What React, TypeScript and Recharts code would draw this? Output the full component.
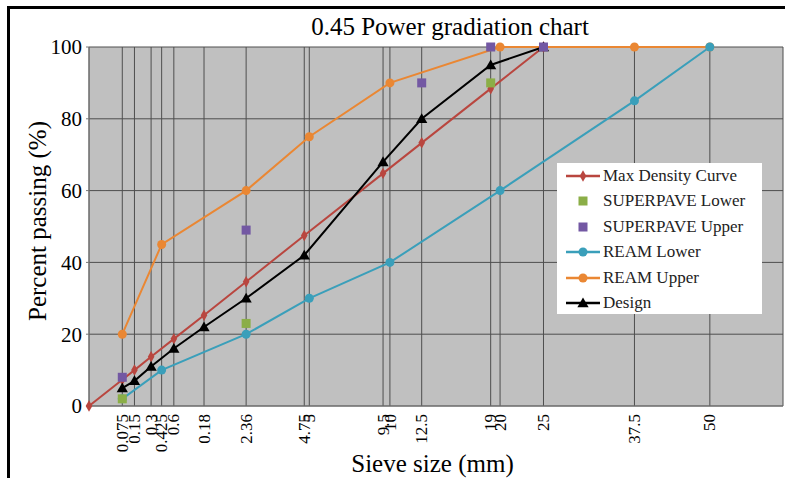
import { ComposedChart, Line, Scatter, XAxis, YAxis, CartesianGrid, Symbols } from "recharts";

// sieve sizes (mm) on a 0.45 power axis
const tickSizes = [0.075, 0.15, 0.3, 0.425, 0.6, 1.18, 2.36, 4.75, 5, 9.5, 10, 12.5, 19, 20, 25, 37.5, 50];
const tickLabels = ["0.075", "0.15", "0.3", "0.425", "0.6", "0.18", "2.36", "4.75", "5", "9.5", "10", "12.5", "19", "20", "25", "37.5", "50"];
const yTicks = [0, 20, 40, 60, 80, 100];

const maxDensitySizes = [0, 0.075, 0.15, 0.3, 0.6, 1.18, 2.36, 4.75, 9.5, 12.5, 19, 25];
const maxDensityPassing = [0, 7.3, 10.0, 13.7, 18.7, 25.3, 34.6, 47.5, 64.8, 73.3, 88.4, 100];

const superpaveLowerSizes = [0.075, 2.36, 19];
const superpaveLowerPassing = [2, 23, 90];
const superpaveUpperSizes = [0.075, 2.36, 12.5, 19, 25];
const superpaveUpperPassing = [8, 49, 90, 100, 100];

const reamSizes = [0.075, 0.425, 2.36, 5, 10, 20, 37.5, 50];
const reamLowerPassing = [2, 10, 20, 30, 40, 60, 85, 100];
const reamUpperPassing = [20, 45, 60, 75, 90, 100, 100, 100];

const designSizes = [0.075, 0.15, 0.3, 0.6, 1.18, 2.36, 4.75, 9.5, 12.5, 19, 25];
const designPassing = [5, 7, 11, 16, 22, 30, 42, 68, 80, 95, 100];

const POWER = 0.45;
const toX = (s: number) => Math.pow(s, POWER);
const points = (sizes: number[], vals: number[]) => sizes.map((s, i) => ({ x: toX(s), y: vals[i] }));

const RED = "#B9463F";
const GREEN = "#8BAE47";
const PURPLE = "#7358A3";
const TEAL = "#3A9FBA";
const ORANGE = "#EA8733";
const SERIF = "Liberation Serif";

const labelFor = (v: number) => {
  const i = tickSizes.findIndex((s) => Math.abs(toX(s) - v) < 1e-6);
  return i >= 0 ? tickLabels[i] : "";
};

function XTick(props: any) {
  const { x, y, payload } = props;
  return (
    <text
      transform={`translate(${x},${y}) rotate(-90)`}
      textAnchor="end"
      dy="0.33em"
      style={{ fontFamily: SERIF, fontSize: 17 }}
      fill="#000"
    >
      {labelFor(payload.value)}
    </text>
  );
}

function YTick(props: any) {
  const { x, y, payload } = props;
  return (
    <text x={x} y={y} dy="0.35em" textAnchor="end" style={{ fontFamily: SERIF, fontSize: 21 }} fill="#000">
      {payload.value}
    </text>
  );
}

const diamondDot = (p: any) => (
  <Symbols key={`d${p.index}`} cx={p.cx} cy={p.cy} type="diamond" size={38} fill={RED} stroke="none" />
);
const triangleDot = (p: any) => (
  <Symbols key={`t${p.index}`} cx={p.cx} cy={p.cy + 1} type="triangle" size={55} fill="#000" stroke="none" />
);
const square = (color: string) => (p: any) => (
  <rect x={p.cx - 4.5} y={p.cy - 4.5} width={9} height={9} fill={color} />
);

const legendItems = [
  { name: "Max Density Curve", color: RED, kind: "diamond" },
  { name: "SUPERPAVE Lower", color: GREEN, kind: "square" },
  { name: "SUPERPAVE Upper", color: PURPLE, kind: "square" },
  { name: "REAM Lower", color: TEAL, kind: "circle" },
  { name: "REAM Upper", color: ORANGE, kind: "circle" },
  { name: "Design", color: "#000", kind: "triangle" },
];

function LegendBox() {
  return (
    <div style={{ position: "absolute", left: 557, top: 163, background: "#fff", width: 205, height: 151 }}>
      {legendItems.map((it) => (
        <div key={it.name} style={{ display: "flex", alignItems: "center", height: 25.5 }}>
          <svg width={46} height={20} style={{ flex: "none" }}>
            {it.kind !== "square" && <line x1={9} x2={43} y1={10} y2={10} stroke={it.color} strokeWidth={2.5} />}
            {it.kind === "square" && <rect x={21.5} y={5.5} width={9} height={9} fill={it.color} />}
            {it.kind === "circle" && <circle cx={26} cy={10} r={4.5} fill={it.color} />}
            {it.kind === "diamond" && <Symbols cx={26} cy={10} type="diamond" size={38} fill={it.color} />}
            {it.kind === "triangle" && <Symbols cx={26} cy={11} type="triangle" size={55} fill={it.color} />}
          </svg>
          <span style={{ fontFamily: SERIF, fontSize: 17, color: "#222", whiteSpace: "nowrap" }}>{it.name}</span>
        </div>
      ))}
    </div>
  );
}

export default function App() {
  return (
    <div style={{ position: "absolute", left: 0, top: 0, width: 785, height: 478, background: "#fff", overflow: "hidden", fontFamily: SERIF }}>
      <div style={{ position: "absolute", left: 7, top: 6, width: 800, height: 500, borderTop: "3px solid #000", borderLeft: "3px solid #000" }} />
      <div style={{ position: "absolute", left: 0, top: 13, width: 900, textAlign: "center", fontSize: 25, color: "#000" }}>
        0.45 Power gradiation chart
      </div>
      <div
        style={{
          position: "absolute", left: 38, top: 221, transform: "translate(-50%, -50%) rotate(-90deg)",
          fontSize: 25, whiteSpace: "nowrap", color: "#000",
        }}
      >
        Percent passing (%)
      </div>
      <div style={{ position: "absolute", left: 0, top: 450, width: 865, textAlign: "center", fontSize: 25, color: "#000" }}>
        Sieve size (mm)
      </div>
      <div style={{ position: "absolute", left: 0, top: 0 }}>
        <ComposedChart width={785} height={478} margin={{ top: 47, right: 2, bottom: 42, left: 0 }} style={{ fontFamily: SERIF }}>
          <CartesianGrid stroke="#4e4e4e" strokeWidth={1} fill="#C0C0C0" fillOpacity={1} />
          <XAxis
            type="number"
            dataKey="x"
            height={30}
            domain={[0, 6.5]}
            ticks={tickSizes.map(toX)}
            interval={0}
            tickLine={false}
            axisLine={{ stroke: "#777" }}
            tick={<XTick />}
            tickMargin={2}
          />
          <YAxis
            type="number"
            dataKey="y"
            width={89}
            domain={[0, 100]}
            ticks={yTicks}
            interval={0}
            tickSize={3}
            tickMargin={4}
            tickLine={{ stroke: "#777" }}
            axisLine={{ stroke: "#777" }}
            tick={<YTick />}
          />
          <Line data={points(reamSizes, reamUpperPassing)} dataKey="y" stroke={ORANGE} strokeWidth={2} dot={{ r: 4.5, fill: ORANGE, stroke: "none" }} isAnimationActive={false} />
          <Line data={points(reamSizes, reamLowerPassing)} dataKey="y" stroke={TEAL} strokeWidth={2} dot={{ r: 4.5, fill: TEAL, stroke: "none" }} isAnimationActive={false} />
          <Line data={points(maxDensitySizes, maxDensityPassing)} dataKey="y" stroke={RED} strokeWidth={2} dot={diamondDot} isAnimationActive={false} />
          <Line data={points(designSizes, designPassing)} dataKey="y" stroke="#000" strokeWidth={2} dot={triangleDot} isAnimationActive={false} />
          <Scatter data={points(superpaveLowerSizes, superpaveLowerPassing)} dataKey="y" fill={GREEN} shape={square(GREEN)} isAnimationActive={false} />
          <Scatter data={points(superpaveUpperSizes, superpaveUpperPassing)} dataKey="y" fill={PURPLE} shape={square(PURPLE)} isAnimationActive={false} />
        </ComposedChart>
      </div>
      <LegendBox />
    </div>
  );
}
